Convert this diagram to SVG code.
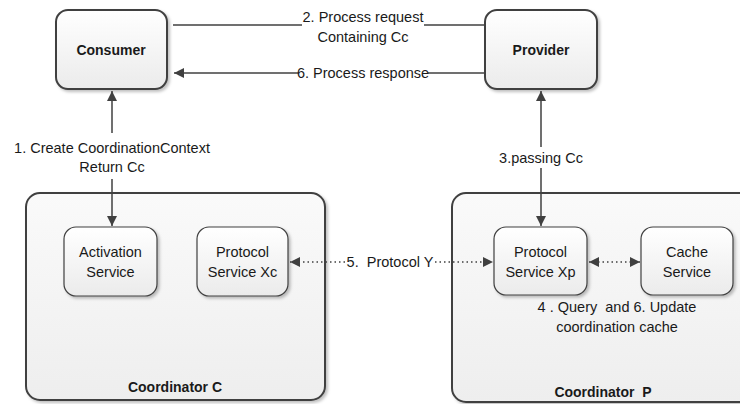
<svg xmlns="http://www.w3.org/2000/svg" width="740" height="404" viewBox="0 0 740 404">
<defs>
<linearGradient id="g" x1="0" y1="0" x2="0" y2="1">
<stop offset="0" stop-color="#ffffff"/>
<stop offset="1" stop-color="#ebebeb"/>
</linearGradient>
<linearGradient id="gc" x1="0" y1="0" x2="0" y2="1">
<stop offset="0" stop-color="#fafafa"/>
<stop offset="1" stop-color="#eeeeee"/>
</linearGradient>
<filter id="sh" x="-10%" y="-10%" width="130%" height="130%">
<feDropShadow dx="2" dy="2" stdDeviation="1.5" flood-color="#000" flood-opacity="0.25"/>
</filter>
<marker id="ah" viewBox="0 0 10 10" refX="10" refY="5" markerWidth="10" markerHeight="10" markerUnits="userSpaceOnUse" orient="auto-start-reverse">
<path d="M0,0 L10,5 L0,10 Z" fill="#404040"/>
</marker>
</defs>
<style>
.big{fill:url(#g);stroke:#404040;stroke-width:2;filter:url(#sh)}
.coord{fill:url(#gc);stroke:#404040;stroke-width:2;filter:url(#sh)}
.svc{fill:url(#g);stroke:#404040;stroke-width:1.2;filter:url(#sh)}
.t{font-family:"Liberation Sans",Arial,sans-serif;font-size:14.5px;fill:#1a1a1a;text-anchor:middle;dominant-baseline:central;white-space:pre}
.b{font-weight:bold;font-size:14px}
.ln{stroke:#404040;stroke-width:1.5;fill:none}
.dot{stroke:#404040;stroke-width:1.5;fill:none;stroke-dasharray:1.5 3}
</style>
<g id="coordinatorC">
<rect class="coord" x="26" y="193" width="299" height="207" rx="14"/>
<text class="t b" x="175" y="387">Coordinator C</text>
</g>
<g id="coordinatorP">
<rect class="coord" x="452" y="193" width="320" height="209" rx="14"/>
<text class="t b" x="603" y="392">Coordinator  P</text>
</g>
<g id="consumer">
<rect class="big" x="56" y="10" width="111" height="79" rx="12"/>
<text class="t b" x="111" y="50">Consumer</text>
</g>
<g id="provider">
<rect class="big" x="485" y="10" width="112" height="79" rx="12"/>
<text class="t b" x="541" y="50">Provider</text>
</g>
<g id="activation">
<rect class="svc" x="64" y="227" width="93" height="69" rx="12"/>
<text class="t" x="110.5" y="252">Activation</text>
<text class="t" x="110.5" y="272">Service</text>
</g>
<g id="protocolXc">
<rect class="svc" x="197" y="227" width="91" height="69" rx="12"/>
<text class="t" x="242.5" y="252">Protocol</text>
<text class="t" x="242.5" y="272">Service Xc</text>
</g>
<g id="protocolXp">
<rect class="svc" x="494" y="227" width="93" height="68" rx="12"/>
<text class="t" x="540.5" y="252">Protocol</text>
<text class="t" x="540.5" y="272">Service Xp</text>
</g>
<g id="cache">
<rect class="svc" x="641" y="227" width="92" height="68" rx="12"/>
<text class="t" x="687" y="252">Cache</text>
<text class="t" x="687" y="272">Service</text>
</g>
<g id="connectors">
<line class="ln" x1="173" y1="25" x2="302" y2="25"/>
<line class="ln" x1="424" y1="25" x2="485" y2="25"/>
<text class="t" x="363" y="17">2. Process request</text>
<text class="t" x="363" y="37">Containing Cc</text>
<line class="ln" x1="298" y1="73" x2="174" y2="73" marker-end="url(#ah)"/>
<line class="ln" x1="428" y1="73" x2="485" y2="73"/>
<text class="t" x="363" y="73">6. Process response</text>
<line class="ln" x1="112" y1="133" x2="112" y2="91" marker-end="url(#ah)"/>
<line class="ln" x1="112" y1="179" x2="112" y2="226" marker-end="url(#ah)"/>
<text class="t" x="112" y="148">1. Create CoordinationContext</text>
<text class="t" x="112" y="167">Return Cc</text>
<line class="ln" x1="541" y1="147" x2="541" y2="91" marker-end="url(#ah)"/>
<line class="ln" x1="541" y1="168" x2="541" y2="226" marker-end="url(#ah)"/>
<text class="t" x="541" y="158">3.passing Cc</text>
<line class="dot" x1="345" y1="262" x2="290" y2="262" marker-end="url(#ah)"/>
<line class="dot" x1="435" y1="262" x2="493" y2="262" marker-end="url(#ah)"/>
<text class="t" x="390" y="262">5.  Protocol Y</text>
<line class="dot" x1="589" y1="262" x2="640" y2="262" marker-start="url(#ah)" marker-end="url(#ah)"/>
<text class="t" x="617" y="307">4 . Query  and 6. Update</text>
<text class="t" x="617" y="327">coordination cache</text>
</g>
</svg>
